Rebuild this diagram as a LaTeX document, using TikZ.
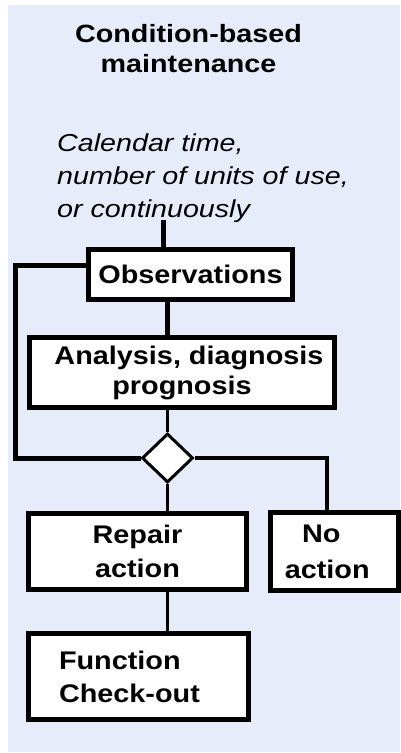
\documentclass[tikz,border=0pt]{standalone}
\usepackage{fontspec}
\setmainfont{Liberation Sans}
\newfontfamily\boxfont{Liberation Sans}[FakeStretch=1.13]
\newfontfamily\titlefont{Liberation Sans}[FakeStretch=1.15]
\newfontfamily\notefont{Liberation Sans}[FakeStretch=1.17]
\usetikzlibrary{shapes.geometric}
\definecolor{panel}{RGB}{230,236,250}

\begin{document}
\begin{tikzpicture}[x=1pt,y=-1pt,
  stepbox/.style={draw=black, line width=5pt, fill=white, inner sep=0pt,
    font=\boxfont\bfseries\fontsize{25.5}{33}\selectfont, align=center},
  thickline/.style={draw=black, line width=5pt},
  thinline/.style={draw=black, line width=3.5pt},
  decision/.style={diamond, draw=black, fill=white, line width=3pt,
    inner sep=0pt, minimum width=51pt, minimum height=49pt}]

% page and panel
\useasboundingbox (0,0) rectangle (400,753);
\fill[panel] (8,5) rectangle (400,752);

% heading and schedule note
\node[inner sep=0pt, align=center,
  font=\titlefont\bfseries\fontsize{25}{30}\selectfont] (title) at (188.5,49)
  {Condition-based\\maintenance};
\node[inner sep=0pt, align=left, anchor=north west,
  font=\notefont\itshape\fontsize{24.5}{33}\selectfont] (note) at (57,134)
  {Calendar time,\\number of units of use,\\or continuously};

% process boxes
\node[stepbox, minimum width=204pt, minimum height=50pt] (obs) at (190.5,274.5)
  {Observations};
\node[stepbox, minimum width=305pt, minimum height=70pt,
  font=\boxfont\bfseries\fontsize{25.5}{30}\selectfont] (ana) at (182,372.5)
  {\hspace*{14pt}Analysis, diagnosis\\prognosis};
\node[decision] (dia) at (167.5,458) {};
\node[stepbox, minimum width=218pt, minimum height=76pt,
  font=\boxfont\bfseries\fontsize{25.5}{34}\selectfont] (rep) at (137.5,551.5)
  {Repair\\action};
\node[stepbox, minimum width=127.5pt, minimum height=78pt,
  font=\boxfont\bfseries\fontsize{25.5}{36}\selectfont] (noact) at (334.25,551.5)
  {No\hspace*{26pt}\\action\hspace*{14pt}};
\node[stepbox, minimum width=220pt, minimum height=86pt, text width=159pt,
  align=left] (fun) at (138.5,676.5)
  {Function\\Check-out};

% connectors
\coordinate (feed) at (163,220);
\draw[thickline] (feed) -- (feed |- obs.north);
\draw[thickline] (obs.south -| dia) -- (ana.north -| dia);
\coordinate (loop) at (15,265);
\draw[thickline] (obs.west |- loop) -- (loop) |- (dia.west);
\draw[thinline] (ana.south -| dia) -- (dia.north);
\coordinate (turn) at (327,458);
\draw[thinline] (dia.east) -- (turn) -- (turn |- noact.north);
\draw[thinline] (dia.south) -- (dia.south |- rep.north);
\draw[thinline] (rep.south -| dia) -- (fun.north -| dia);
\end{tikzpicture}
\end{document}
